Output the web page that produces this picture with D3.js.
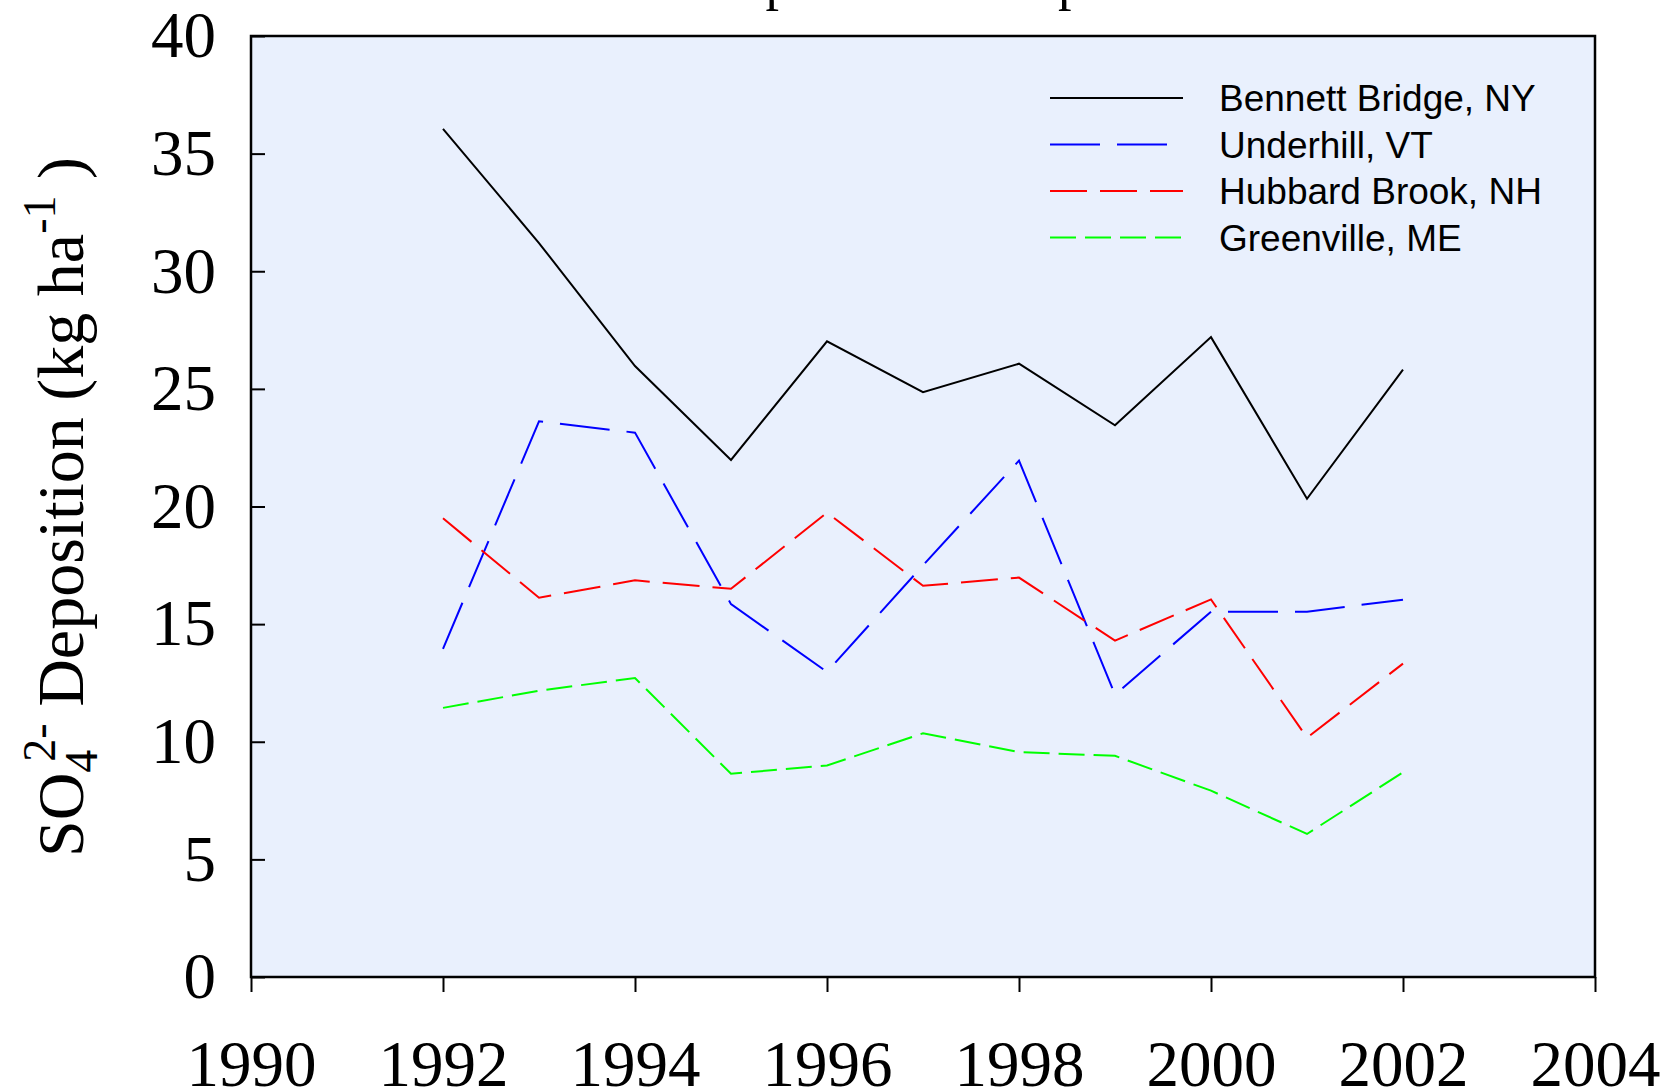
<!DOCTYPE html>
<html>
<head>
<meta charset="utf-8">
<script src="https://cdn.jsdelivr.net/npm/d3@7"></script>
<style>
    body { margin: 0; background: #ffffff; }
    svg { display: block; }
</style>
</head>
<body>
<div id="vis"></div>
<script>
// data
var years = [1992, 1993, 1994, 1995, 1996, 1997, 1998, 1999, 2000, 2001, 2002];
var bennettBridge = [36.05, 31.2, 25.97, 21.98, 27.02, 24.86, 26.07, 23.45, 27.2, 20.33, 25.82];
var underhill = [13.95, 23.62, 23.14, 15.85, 12.97, 17.5, 21.95, 12.0, 15.53, 15.53, 16.04];
var hubbardBrook = [19.5, 16.12, 16.86, 16.5, 19.74, 16.63, 16.98, 14.3, 16.05, 10.17, 13.32];
var greenville = [11.44, 12.17, 12.71, 8.64, 8.99, 10.36, 9.56, 9.4, 7.92, 6.08, 8.7];

var seriesNames = ['Bennett Bridge, NY', 'Underhill, VT', 'Hubbard Brook, NH', 'Greenville, ME'];
var seriesValues = [bennettBridge, underhill, hubbardBrook, greenville];
var seriesColors = ['#000000', '#0000ff', '#ff0000', '#00ff00'];
var seriesDashes = [null, '50,17', '37,13', '26,9'];

var xTicks = [1990, 1992, 1994, 1996, 1998, 2000, 2002, 2004];
var yTicks = [0, 5, 10, 15, 20, 25, 30, 35, 40];

var width = 1667;
var height = 1091;
var plot = {left: 251, right: 1595, top: 36, bottom: 977};

var svg = d3.select('#vis')
    .append('svg')
    .attr('width', width)
    .attr('height', height);

var x = d3.scaleLinear().domain([1990, 2004]).range([plot.left, plot.right]);
var y = d3.scaleLinear().domain([0, 40]).range([plot.bottom, plot.top]);

// title, almost all of it sits above the page
svg.append('text')
    .attr('x', 536)
    .attr('y', -1.5)
    .style('font-family', '"Liberation Serif", "Times New Roman", serif')
    .style('font-size', '54px')
    .text('Sulfate Deposition Comparison');

// plot background
svg.append('rect')
    .attr('x', plot.left)
    .attr('y', plot.top)
    .attr('width', plot.right - plot.left)
    .attr('height', plot.bottom - plot.top)
    .attr('fill', '#e9f0fd');

// x axis
var xAxis = svg.append('g')
    .attr('transform', 'translate(0,' + plot.bottom + ')')
    .call(d3.axisBottom(x)
        .tickValues(xTicks)
        .tickSize(15)
        .tickPadding(48)
        .tickFormat(d3.format('d')));
xAxis.select('.domain').remove();
xAxis.selectAll('line').attr('stroke', '#000').attr('stroke-width', 2);
xAxis.selectAll('text')
    .attr('fill', '#000')
    .style('font-family', '"Liberation Serif", "Times New Roman", serif')
    .style('font-size', '65px');

// y axis, ticks point inward
var yAxis = svg.append('g')
    .attr('transform', 'translate(' + plot.left + ',0)')
    .call(d3.axisLeft(y)
        .tickValues(yTicks)
        .tickSize(-14)
        .tickPadding(35));
yAxis.select('.domain').remove();
yAxis.selectAll('line').attr('stroke', '#000').attr('stroke-width', 2);
yAxis.selectAll('text')
    .attr('fill', '#000')
    .style('font-family', '"Liberation Serif", "Times New Roman", serif')
    .style('font-size', '65px');

// series lines
var line = d3.line()
    .x(function (d) { return x(d.year); })
    .y(function (d) { return y(d.value); });

seriesValues.forEach(function (vals, i) {
    var pts = years.map(function (yr, j) {
        return {year: yr, value: vals[j]};
    });
    svg.append('path')
        .datum(pts)
        .attr('fill', 'none')
        .attr('stroke', seriesColors[i])
        .attr('stroke-width', 2)
        .attr('stroke-dasharray', seriesDashes[i])
        .attr('d', line);
});

// frame
svg.append('rect')
    .attr('x', plot.left)
    .attr('y', plot.top)
    .attr('width', plot.right - plot.left)
    .attr('height', plot.bottom - plot.top)
    .attr('fill', 'none')
    .attr('stroke', '#000')
    .attr('stroke-width', 2.5);

// legend
var legend = svg.append('g')
    .attr('transform', 'translate(1050,98)');

var items = legend.selectAll('.item')
    .data(seriesNames)
    .enter().append('g')
    .attr('class', 'item')
    .attr('transform', function (d, i) {
        return 'translate(0,' + (i * 46.5) + ')';
    });

items.append('line')
    .attr('x1', 0)
    .attr('x2', 133)
    .attr('y1', 0)
    .attr('y2', 0)
    .attr('stroke', function (d, i) { return seriesColors[i]; })
    .attr('stroke-width', 2)
    .attr('stroke-dasharray', function (d, i) { return seriesDashes[i]; });

items.append('text')
    .attr('x', 169)
    .attr('y', 13)
    .style('font-family', '"Liberation Sans", Arial, sans-serif')
    .style('font-size', '37px')
    .attr('fill', '#000')
    .text(function (d) { return d; });

// y axis title with sub/superscripts
var yTitle = svg.append('text')
    .attr('transform', 'translate(83,857) rotate(-90)')
    .style('font-family', '"Liberation Serif", "Times New Roman", serif')
    .style('font-size', '66px')
    .attr('fill', '#000');

yTitle.append('tspan').text('SO');
yTitle.append('tspan').attr('dy', 14).style('font-size', '46px').text('4');
yTitle.append('tspan').attr('dx', -12).attr('dy', -42).style('font-size', '46px').text('2-');
yTitle.append('tspan').attr('dy', 28).text(' Deposition (kg ha');
yTitle.append('tspan').attr('dy', -28).style('font-size', '46px').text('-1');
yTitle.append('tspan').attr('dy', 28).text(' )');
</script>
</body>
</html>
